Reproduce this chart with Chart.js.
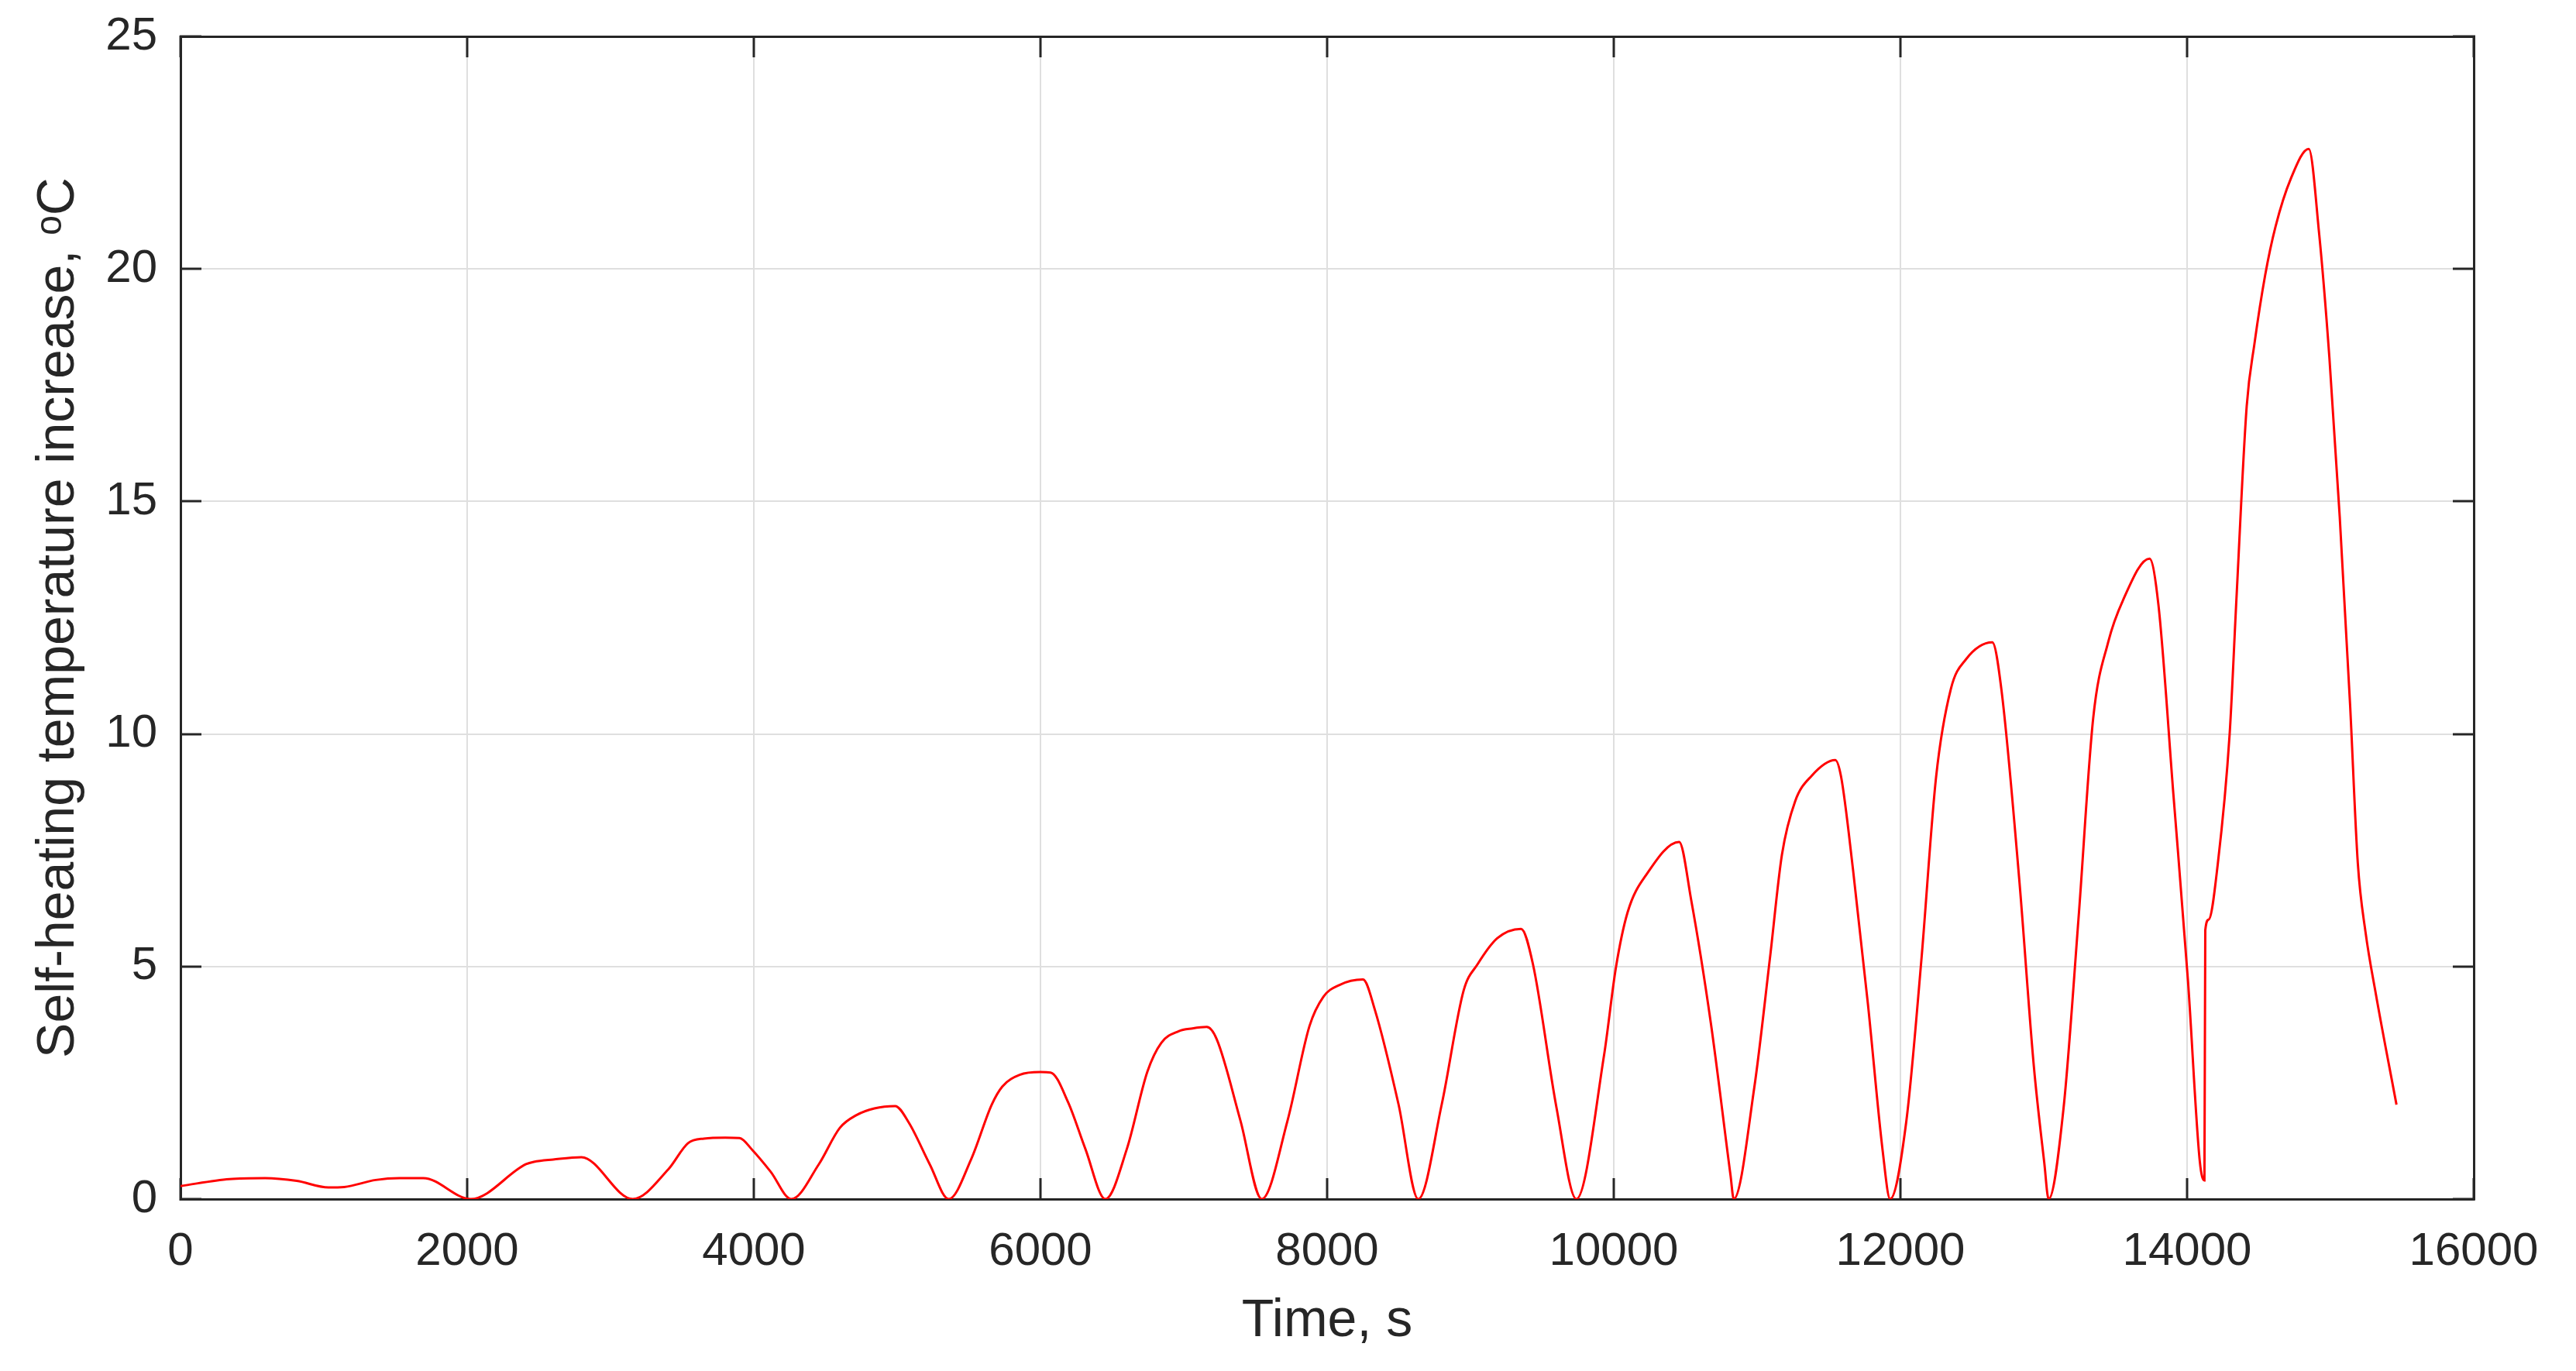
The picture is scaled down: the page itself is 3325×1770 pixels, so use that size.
<!DOCTYPE html>
<html>
<head>
<meta charset="utf-8">
<title>Self-heating temperature increase</title>
<script src="https://cdn.jsdelivr.net/npm/chart.js@4.4.0/dist/chart.umd.min.js"></script>
<style>
  html, body { margin: 0; padding: 0; background: #ffffff; overflow: hidden; }
  #wrap { width: 3325px; height: 1770px; position: relative; }
</style>
</head>
<body>
<div id="wrap"><canvas id="selfHeatingChart"></canvas></div>
<script>
// time, s
const timeSeconds = [
  0, 342, 590, 811, 1032, 1142, 1362, 1528, 1694, 2025,
  2411, 2465, 2600, 2797, 3155, 3404, 3541, 3652, 3800, 3900,
  3991, 4117, 4262, 4454, 4600, 4719, 4841, 4986, 5082, 5227,
  5360, 5517, 5660, 5734, 5855, 6000, 6071, 6193, 6313, 6453,
  6603, 6746, 6843, 6964, 7060, 7160, 7229, 7395, 7544, 7724,
  7877, 7974, 8084, 8250, 8333, 8498, 8636, 8800, 8953, 9050,
  9188, 9353, 9436, 9600, 9739, 9932, 10015, 10097, 10235, 10456,
  10539, 10677, 10815, 10837, 10980, 11090, 11173, 11265, 11380, 11545,
  11586, 11669, 11773, 11876, 11928, 12041, 12145, 12249, 12352, 12456,
  12641, 12704, 12828, 12931, 13004, 13034, 13138, 13242, 13345, 13449,
  13552, 13738, 13800, 13904, 14007, 14089, 14121, 14127, 14151, 14214,
  14297, 14344, 14416, 14470, 14545, 14617, 14725, 14849, 14921, 14993,
  15065, 15137, 15191, 15245, 15317, 15461
];

// self-heating temperature increase, oC
const temperatureRise = [
  0.28, 0.43, 0.45, 0.39, 0.25, 0.26, 0.41, 0.45, 0.45, 0.0,
  0.75, 0.80, 0.85, 0.90, 0.0, 0.64, 1.20, 1.30, 1.32, 1.31,
  1.05, 0.59, 0.0, 0.75, 1.53, 1.81, 1.95, 2.00, 1.64, 0.75,
  0.0, 0.86, 2.03, 2.42, 2.67, 2.73, 2.72, 2.08, 1.08, 0.0,
  1.08, 2.74, 3.36, 3.61, 3.67, 3.70, 3.44, 1.69, 0.0, 1.69,
  3.72, 4.35, 4.60, 4.72, 4.07, 2.04, 0.0, 2.04, 4.49, 5.05,
  5.61, 5.81, 5.05, 1.97, 0.0, 3.09, 4.98, 6.17, 7.01, 7.68,
  6.45, 3.79, 0.50, 0.0, 2.39, 5.19, 7.40, 8.55, 9.10, 9.44,
  9.08, 7.09, 4.20, 1.04, 0.0, 1.67, 5.10, 9.08, 10.97, 11.60,
  11.97, 10.97, 6.91, 2.85, 0.77, 0.0, 1.95, 6.01, 10.34, 11.97,
  12.87, 13.77, 12.78, 8.72, 4.66, 0.80, 0.40, 5.78, 6.01, 7.20,
  10.00, 12.88, 17.05, 18.39, 19.87, 20.91, 21.95, 22.58, 20.77, 18.09,
  14.67, 10.65, 7.23, 5.74, 4.41, 2.03
];

const xTickValues = [0, 2000, 4000, 6000, 8000, 10000, 12000, 14000, 16000];
const yTickValues = [0, 5, 10, 15, 20, 25];

const axisColor = "#262626";
const gridColor = "#dfdfdf";
const fontFamily = "'Liberation Sans', Arial, Helvetica, sans-serif";

function buildPoints() {
  return timeSeconds.map(function (t, i) {
    return { x: t, y: temperatureRise[i] };
  });
}

function frameAxis(position, min, max, fitSize, showLabels, showGrid) {
  const horizontal = position === "top" || position === "bottom";
  return {
    type: "linear",
    position: position,
    min: min,
    max: max,
    afterFit: function (scale) {
      // fixed box sizes so the plot frame lands where the reference has it
      if (horizontal) scale.height = fitSize;
      else scale.width = fitSize;
      scale.paddingTop = 0;
      scale.paddingBottom = 0;
      scale.paddingLeft = 0;
      scale.paddingRight = 0;
    },
    afterBuildTicks: function (scale) {
      const values = horizontal ? xTickValues : yTickValues;
      scale.ticks = values.map(v => ({ value: v }));
    },
    border: { display: true, color: axisColor, width: 3 },
    grid: {
      display: true,
      drawOnChartArea: showGrid,
      color: gridColor,
      lineWidth: 2,
      drawTicks: true,
      tickLength: -27,
      tickColor: axisColor,
      tickWidth: 3
    },
    ticks: {
      display: showLabels,
      color: axisColor,
      font: { family: fontFamily, size: 60 },
      padding: horizontal ? 59 : 57,
      maxRotation: 0,
      autoSkip: false,
      callback: value => String(value)
    }
  };
}

function renderSelfHeatingChart() {
  const ctx = document.getElementById("selfHeatingChart");

  const xAxis = frameAxis("bottom", 0, 16000, 222, true, true);
  xAxis.title = {
    display: true,
    text: "Time, s",
    color: axisColor,
    font: { family: fontFamily, size: 68 },
    padding: { top: 0, bottom: 23 }
  };

  const yAxis = frameAxis("left", 0, 25, 233, true, true);
  yAxis.title = {
    display: true,
    text: "Self-heating temperature increase, \u1D52C",
    color: axisColor,
    font: { family: fontFamily, size: 68 },
    padding: { top: 35, bottom: 0 }
  };

  new Chart(ctx, {
    type: "line",
    data: {
      datasets: [{
        label: "Self-heating temperature increase",
        data: buildPoints(),
        borderColor: "#ff0000",
        borderWidth: 3,
        pointRadius: 0,
        fill: false,
        cubicInterpolationMode: "monotone",
        xAxisID: "x",
        yAxisID: "y"
      }]
    },
    options: {
      responsive: true,
      maintainAspectRatio: false,
      animation: false,
      layout: { padding: 0 },
      scales: {
        x: xAxis,
        y: yAxis,
        x2: frameAxis("top", 0, 16000, 47, false, false),
        y2: frameAxis("right", 0, 25, 132, false, false)
      },
      plugins: {
        legend: { display: false },
        tooltip: { enabled: false }
      }
    }
  });
}

renderSelfHeatingChart();
</script>
</body>
</html>
